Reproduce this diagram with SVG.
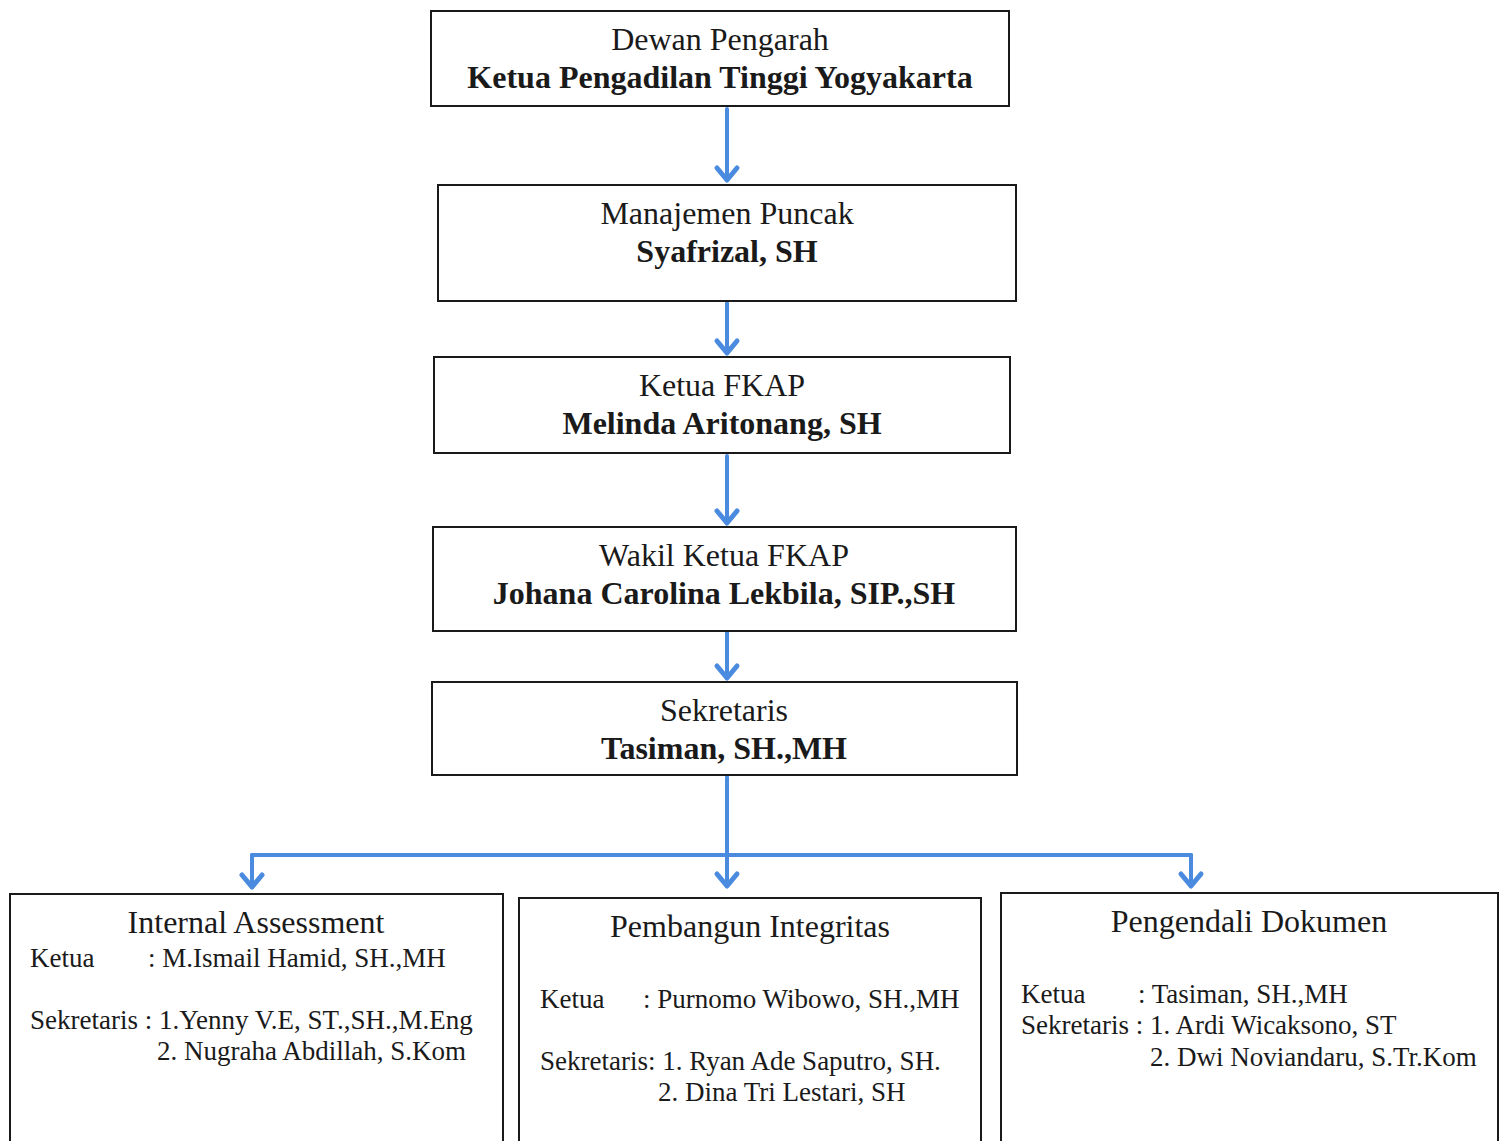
<svg xmlns="http://www.w3.org/2000/svg" width="1499" height="1141" viewBox="0 0 1499 1141">
<style>
.box{fill:#fff;stroke:#1a1a1a;stroke-width:2}
.t{font-family:"Liberation Serif","Times New Roman",serif;fill:#1a1a1a}
.h{font-size:32px;text-anchor:middle}
.b{font-weight:bold}
.s{font-size:27px}
.c{fill:none;stroke:#4a8be0;stroke-width:4;stroke-linecap:round;stroke-linejoin:round}
</style>
<defs>
<marker id="arr" markerUnits="userSpaceOnUse" markerWidth="30" markerHeight="30" viewBox="-15 -15 30 30" refX="0" refY="0" orient="auto" overflow="visible">
<path d="M-12,-10 L0,0 L-12,10" fill="none" stroke="#4a8be0" stroke-width="5" stroke-linecap="round" stroke-linejoin="round"/>
</marker>
</defs>
<rect width="1499" height="1141" fill="#fff"/>
<g id="connectors">
<path class="c" d="M727,109 L727,180" marker-end="url(#arr)"/>
<path class="c" d="M727,303 L727,353" marker-end="url(#arr)"/>
<path class="c" d="M727,456 L727,523" marker-end="url(#arr)"/>
<path class="c" d="M727,622 L727,678" marker-end="url(#arr)"/>
<path class="c" d="M727,777 L727,886" marker-end="url(#arr)"/>
<path class="c" d="M252,855 L1191,855"/>
<path class="c" d="M252,855 L252,887" marker-end="url(#arr)"/>
<path class="c" d="M1191,855 L1191,886" marker-end="url(#arr)"/>
</g>
<g id="dewan-pengarah">
<rect class="box" x="431" y="11" width="578" height="95"/>
<text class="t h" x="720" y="50">Dewan Pengarah</text>
<text class="t h b" x="720" y="88">Ketua Pengadilan Tinggi Yogyakarta</text>
</g>
<g id="manajemen-puncak">
<rect class="box" x="438" y="185" width="578" height="116"/>
<text class="t h" x="727" y="224">Manajemen Puncak</text>
<text class="t h b" x="727" y="262">Syafrizal, SH</text>
</g>
<g id="ketua-fkap">
<rect class="box" x="434" y="357" width="576" height="96"/>
<text class="t h" x="722" y="396">Ketua FKAP</text>
<text class="t h b" x="722" y="434">Melinda Aritonang, SH</text>
</g>
<g id="wakil-ketua-fkap">
<rect class="box" x="433" y="527" width="583" height="104"/>
<text class="t h" x="724" y="566">Wakil Ketua FKAP</text>
<text class="t h b" x="724" y="604">Johana Carolina Lekbila, SIP.,SH</text>
</g>
<g id="sekretaris">
<rect class="box" x="432" y="682" width="585" height="93"/>
<text class="t h" x="724" y="721">Sekretaris</text>
<text class="t h b" x="724" y="759">Tasiman, SH.,MH</text>
</g>
<g id="internal-assessment">
<rect class="box" x="10" y="894" width="493" height="260"/>
<text class="t h" x="256" y="933">Internal Assessment</text>
<text class="t s" x="30" y="967">Ketua</text>
<text class="t s" x="148" y="967">: M.Ismail Hamid, SH.,MH</text>
<text class="t s" x="30" y="1029">Sekretaris : 1.Yenny V.E, ST.,SH.,M.Eng</text>
<text class="t s" x="157" y="1060">2. Nugraha Abdillah, S.Kom</text>
</g>
<g id="pembangun-integritas">
<rect class="box" x="519" y="898" width="462" height="256"/>
<text class="t h" x="750" y="937">Pembangun Integritas</text>
<text class="t s" x="540" y="1008">Ketua</text>
<text class="t s" x="643" y="1008">: Purnomo Wibowo, SH.,MH</text>
<text class="t s" x="540" y="1070">Sekretaris: 1. Ryan Ade Saputro, SH.</text>
<text class="t s" x="658" y="1101">2. Dina Tri Lestari, SH</text>
</g>
<g id="pengendali-dokumen">
<rect class="box" x="1001" y="893" width="497" height="261"/>
<text class="t h" x="1249" y="932">Pengendali Dokumen</text>
<text class="t s" x="1021" y="1003">Ketua</text>
<text class="t s" x="1138" y="1003">: Tasiman, SH.,MH</text>
<text class="t s" x="1021" y="1034">Sekretaris : 1. Ardi Wicaksono, ST</text>
<text class="t s" x="1150" y="1066">2. Dwi Noviandaru, S.Tr.Kom</text>
</g>
</svg>
